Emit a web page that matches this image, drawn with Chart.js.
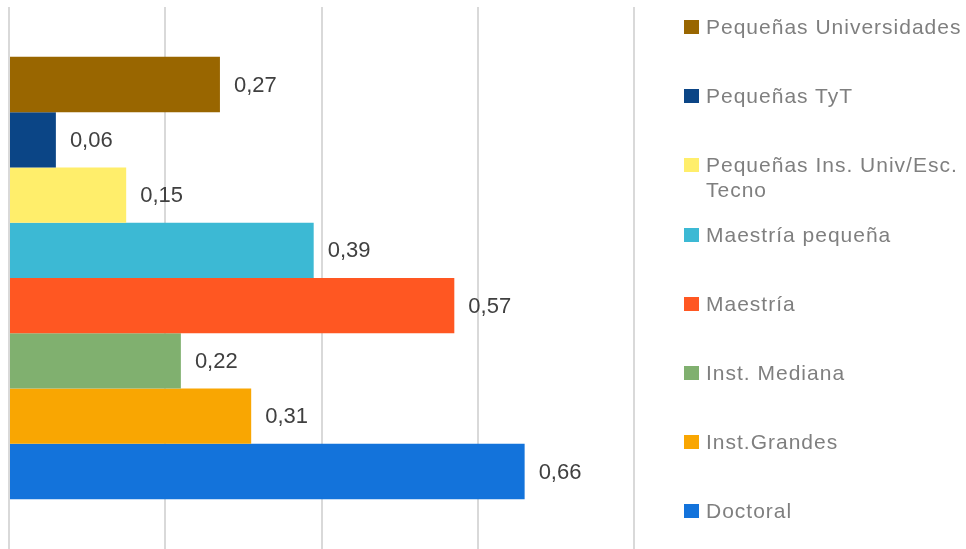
<!DOCTYPE html>
<html>
<head>
<meta charset="utf-8">
<script src="https://cdn.jsdelivr.net/npm/chart.js@4.4.1/dist/chart.umd.min.js"></script>
<style>
  html, body { margin: 0; padding: 0; background: #fff; }
  #wrap { position: relative; width: 966px; height: 549px; overflow: hidden; }
  #chartBox { position: absolute; left: 0; top: 0; width: 966px; height: 549px; }
  #legend {
    position: absolute; left: 684px; top: 14px; width: 282px;
    font-family: "Liberation Sans", Arial, sans-serif; font-size: 21px; color: #7f7f7f;
    letter-spacing: 1px;
  }
  .item { position: relative; height: 69.2px; line-height: 25px; }
  .item .sw { position: absolute; left: 0; top: 6px; width: 15px; height: 14px; }
  .item .tx { position: absolute; left: 22px; top: 0; width: 262px; }
</style>
</head>
<body>
<div id="wrap">
  <div id="chartBox"><canvas id="chart"></canvas></div>
  <div id="legend"></div>
</div>
<script>
// Series names (top to bottom) and values
const seriesNames = [
  'Pequeñas Universidades',
  'Pequeñas TyT',
  'Pequeñas Ins. Univ/Esc. Tecno',
  'Maestría pequeña',
  'Maestría',
  'Inst. Mediana',
  'Inst.Grandes',
  'Doctoral'
];
const seriesValues = [0.27, 0.06, 0.15, 0.39, 0.57, 0.22, 0.31, 0.66];
const seriesColors = ['#996600', '#0b4586', '#ffee6b', '#3cb9d4', '#ff5722', '#80b06f', '#f9a602', '#1373db'];
const categories = [''];
const xTicks = [0, 0.2, 0.4, 0.6, 0.8];

// Value labels drawn at the end of each bar
const valueLabels = {
  id: 'valueLabels',
  afterDatasetsDraw(chart) {
    const ctx = chart.ctx;
    ctx.save();
    ctx.font = '22px "Liberation Sans", Arial, sans-serif';
    ctx.fillStyle = '#404040';
    ctx.textBaseline = 'middle';
    chart.data.datasets.forEach((ds, i) => {
      const bar = chart.getDatasetMeta(i).data[0];
      if (!bar) return;
      const txt = ds.data[0].toFixed(2).replace('.', ',');
      ctx.fillText(txt, bar.x + 14, bar.y + 1);
    });
    ctx.restore();
  }
};

new Chart(document.getElementById('chart'), {
  type: 'bar',
  data: {
    labels: categories,
    datasets: seriesNames.map((name, i) => ({
      label: name,
      data: [seriesValues[i]],
      backgroundColor: seriesColors[i],
      borderWidth: 0,
      categoryPercentage: 0.816,
      barPercentage: 1
    }))
  },
  options: {
    indexAxis: 'y',
    responsive: true,
    maintainAspectRatio: false,
    animation: false,
    layout: { padding: { left: 9, right: 332, top: 7, bottom: 0 } },
    plugins: {
      legend: { display: false },
      tooltip: { enabled: false }
    },
    scales: {
      x: {
        min: xTicks[0],
        max: xTicks[xTicks.length - 1],
        afterBuildTicks: axis => { axis.ticks = xTicks.map(v => ({ value: v })); },
        ticks: { display: false },
        border: { display: false },
        grid: { color: '#d9d9d9', lineWidth: 2, drawTicks: false }
      },
      y: {
        display: false
      }
    }
  },
  plugins: [valueLabels]
});

// HTML legend on the right
const legend = document.getElementById('legend');
seriesNames.forEach((name, i) => {
  const item = document.createElement('div');
  item.className = 'item';
  const sw = document.createElement('span');
  sw.className = 'sw';
  sw.style.background = seriesColors[i];
  const tx = document.createElement('span');
  tx.className = 'tx';
  tx.textContent = name;
  item.appendChild(sw);
  item.appendChild(tx);
  legend.appendChild(item);
});
</script>
</body>
</html>
